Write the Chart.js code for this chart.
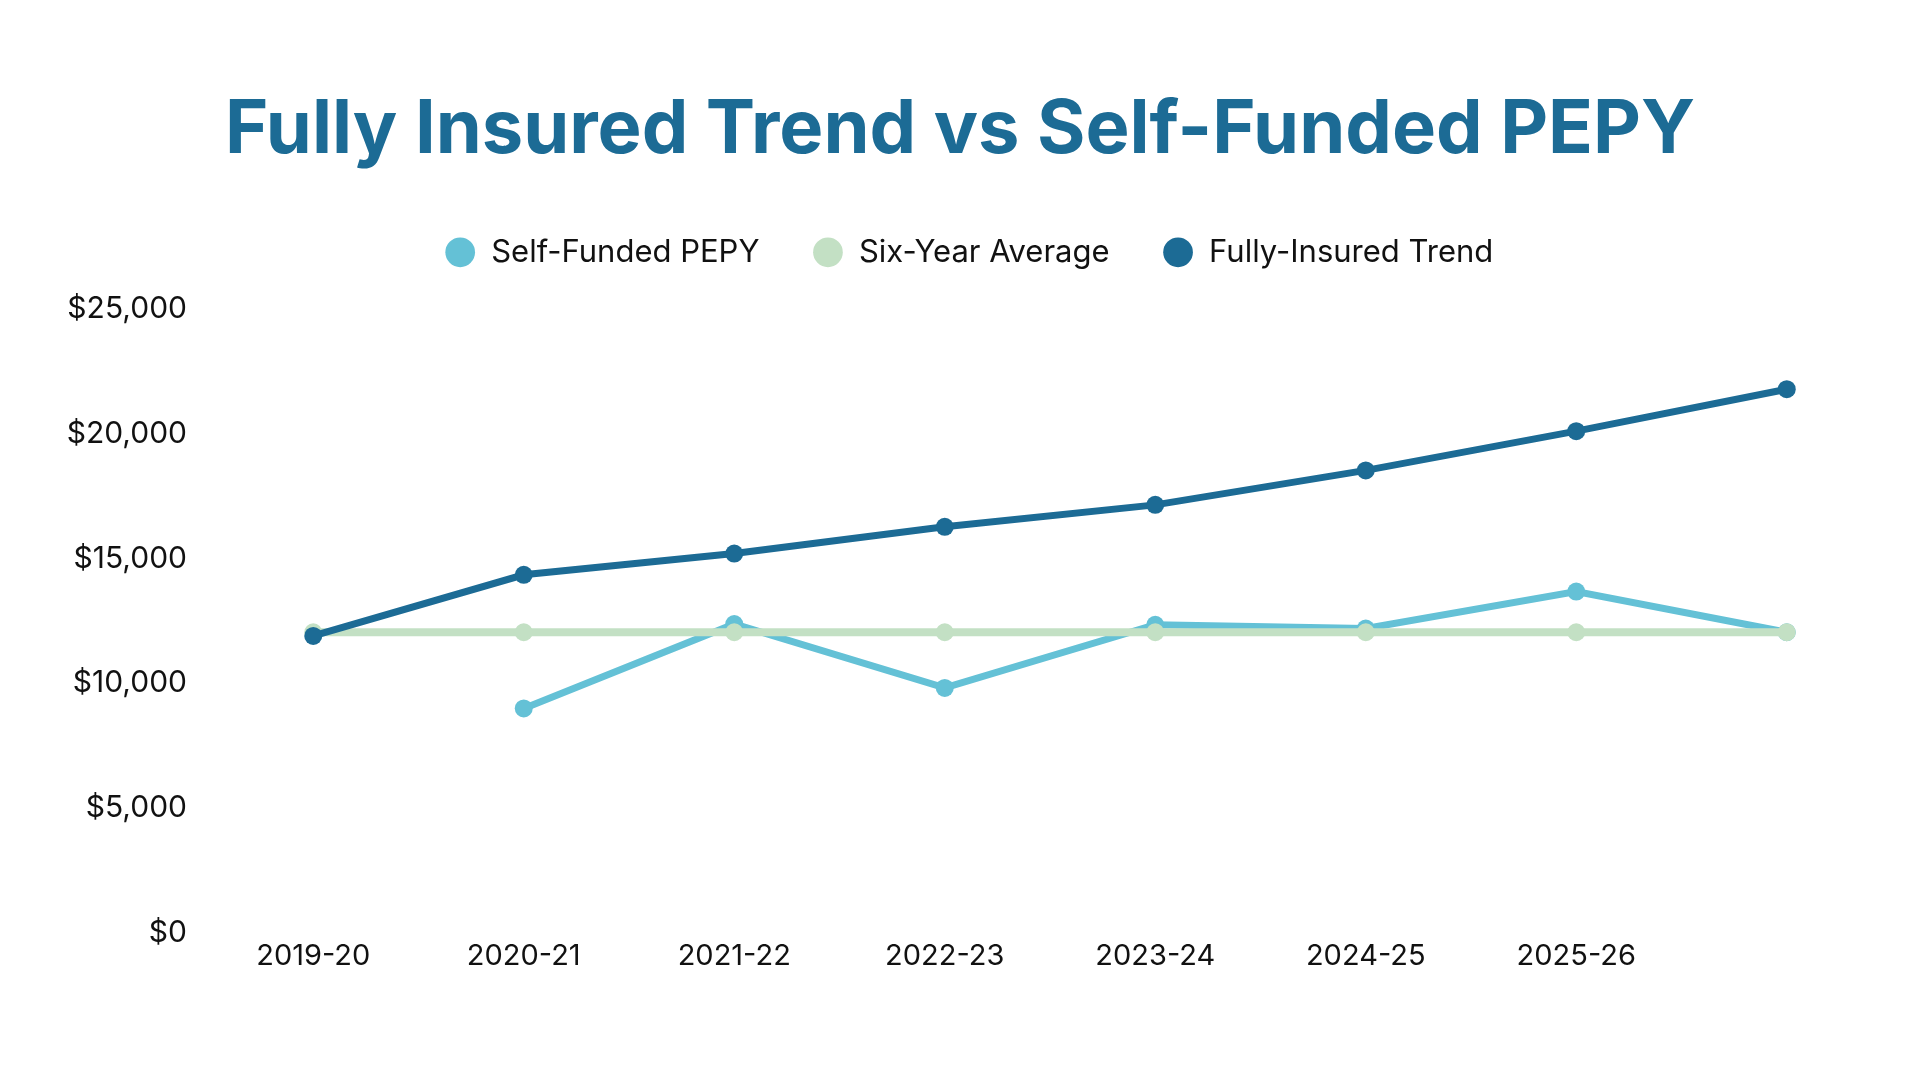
<!DOCTYPE html>
<html>
<head>
<meta charset="utf-8">
<script src="https://cdn.jsdelivr.net/npm/chart.js@4.4.1/dist/chart.umd.min.js"></script>
<style>
  html, body { margin: 0; padding: 0; background: #ffffff; }
  #wrap { width: 1920px; height: 1080px; }
</style>
</head>
<body>
<div id="wrap"><canvas id="trendChart" width="1920" height="1080"></canvas></div>
<script>
// Chart data
const years = ['2019-20', '2020-21', '2021-22', '2022-23', '2023-24', '2024-25', '2025-26', ''];
const selfFunded = [null, 9000, 12380, 9820, 12350, 12200, 13680, 12050];
const sixYearAvg = [12050, 12050, 12050, 12050, 12050, 12050, 12050, 12050];
const fullyInsured = [11900, 14350, 15200, 16270, 17150, 18530, 20100, 21780];
const yTicks = [0, 5000, 10000, 15000, 20000, 25000];

const FONT = 'Inter, "Open Sans", sans-serif';

// extra room under the legend, and nudge it a little to the right
const legendTweak = {
    id: 'legendTweak',
    beforeInit(chart) {
        const fit = chart.legend.fit;
        chart.legend.fit = function () {
            fit.bind(chart.legend)();
            this.height += 31;
        };
    },
    afterLayout(chart) {
        chart.legend.left += 9;
        chart.legend.right += 9;
    }
};

document.addEventListener('DOMContentLoaded', () => {
    const ctx = document.getElementById('trendChart').getContext('2d');
    new Chart(ctx, {
        type: 'line',
        data: {
            labels: years,
            datasets: [{
                label: 'Self-Funded PEPY',
                data: selfFunded,
                borderColor: '#64c1d6',
                backgroundColor: '#64c1d6',
                borderWidth: 7,
                pointRadius: 9,
                pointBorderWidth: 0,
                order: 3
            }, {
                label: 'Six-Year Average',
                data: sixYearAvg,
                borderColor: '#c3e0c4',
                backgroundColor: '#c3e0c4',
                borderWidth: 8,
                pointRadius: 9,
                pointBorderWidth: 0,
                order: 2
            }, {
                label: 'Fully-Insured Trend',
                data: fullyInsured,
                borderColor: '#1c6b95',
                backgroundColor: '#1c6b95',
                borderWidth: 7,
                pointRadius: 9,
                pointBorderWidth: 0,
                order: 1
            }]
        },
        plugins: [legendTweak],
        options: {
            responsive: false,
            animation: false,
            layout: {
                padding: { top: 86, left: 28, right: 28, bottom: 100 }
            },
            plugins: {
                title: {
                    display: true,
                    text: 'Fully Insured Trend vs Self-Funded PEPY',
                    color: '#1c6b95',
                    font: { family: FONT, size: 74, weight: 'bold' },
                    padding: { top: 0, bottom: 9 }
                },
                legend: {
                    position: 'top',
                    labels: {
                        usePointStyle: true,
                        boxWidth: 31,
                        boxHeight: 21,
                        padding: 53,
                        color: '#111111',
                        font: { family: FONT, size: 31 },
                        sort: (a, b) => a.datasetIndex - b.datasetIndex
                    }
                },
                tooltip: { enabled: false }
            },
            scales: {
                x: {
                    offset: true,
                    grid: { display: false, drawTicks: false },
                    border: { display: false },
                    ticks: {
                        color: '#111111',
                        padding: 6,
                        maxRotation: 0,
                        font: { family: FONT, size: 29 }
                    }
                },
                y: {
                    min: 0,
                    max: 25000,
                    afterBuildTicks: axis => {
                        axis.ticks = yTicks.map(v => ({ value: v }));
                    },
                    afterFit: axis => {
                        axis.width = 180;
                    },
                    grid: { display: false, drawTicks: false },
                    border: { display: false },
                    ticks: {
                        color: '#111111',
                        padding: 21,
                        font: { family: FONT, size: 30 },
                        callback: v => '$' + v.toLocaleString('en-US')
                    }
                }
            }
        }
    });
});
</script>
</body>
</html>
